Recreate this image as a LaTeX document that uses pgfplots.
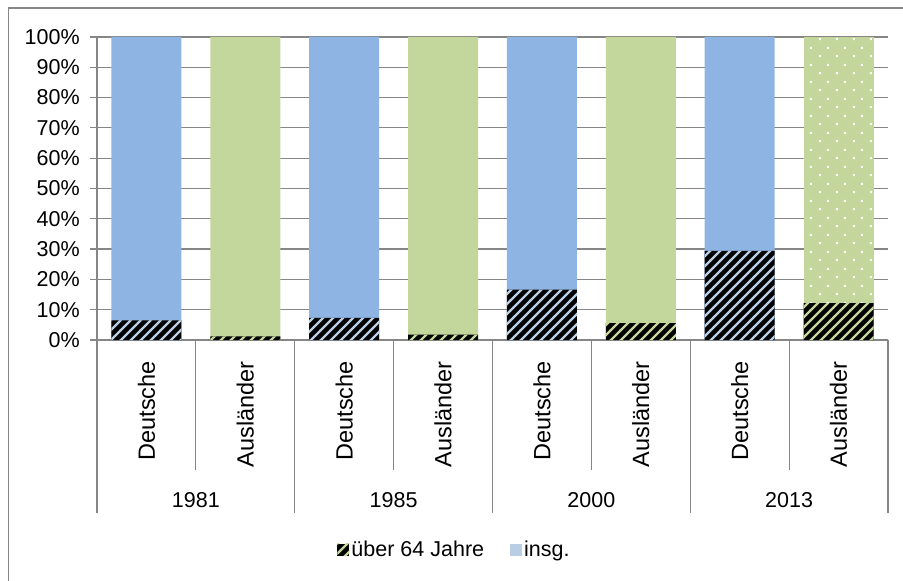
\documentclass[border=0pt]{standalone}
\usepackage{fontspec}
\setmainfont{Liberation Sans}
\usepackage{pgfplots}
\pgfplotsset{compat=1.18}
\usetikzlibrary{patterns}

\definecolor{barblue}    {RGB}{141,180,226}
\definecolor{bargreen}   {RGB}{195,214,155}
\definecolor{stripeblue} {RGB}{185,205,229}
\definecolor{stripegreen}{RGB}{195,214,155}
\definecolor{linegray}   {RGB}{134,134,134}

%% diagonal stripes, 10bp period
\pgfdeclarepatternformonly{stripes}{\pgfqpoint{-1bp}{-1bp}}{\pgfqpoint{11bp}{11bp}}{\pgfqpoint{10bp}{10bp}}{%
  \pgfsetlinewidth{2.2bp}%
  \pgfpathmoveto{\pgfqpoint{-0.5bp}{-0.5bp}}%
  \pgfpathlineto{\pgfqpoint{10.5bp}{10.5bp}}%
  \pgfusepath{stroke}}
%% small square dots, staggered
\pgfdeclarepatternformonly{sqdots}{\pgfqpoint{0bp}{0bp}}{\pgfqpoint{17bp}{16.6bp}}{\pgfqpoint{17bp}{16.6bp}}{%
  \pgfpathrectangle{\pgfqpoint{3bp}{3bp}}{\pgfqpoint{2bp}{2bp}}%
  \pgfpathrectangle{\pgfqpoint{11.5bp}{11.3bp}}{\pgfqpoint{2bp}{2bp}}%
  \pgfusepath{fill}}

\newcommand\lblfont{\fontsize{21.5bp}{25bp}\selectfont}
\newcommand\rotfont{\fontsize{23.5bp}{27bp}\selectfont}

\begin{document}
\lblfont
\begin{tikzpicture}
\useasboundingbox (0bp,0bp) rectangle (903bp,581bp);
%% outer chart frame (cut off at right and bottom)
\draw[linegray,line width=1.3bp] (8.5bp,-20bp) -- (8.5bp,573bp) -- (930bp,573bp);

\begin{axis}[
  at={(97bp,241bp)}, anchor=south west,
  scale only axis,
  width=791bp, height=303bp,
  xmin=-0.5, xmax=7.5,
  ymin=0, ymax=100,
  xtick=\empty,
  ytick={0,10,...,100},
  yticklabel={\pgfmathprintnumber{\tick}\%},
  /pgf/number format/assume math mode=true,
  yticklabel style={font=\lblfont, xshift=-3bp},
  ymajorgrids,
  grid style={linegray,line width=1.2bp},
  axis x line*=bottom, axis y line*=left,
  axis line style={linegray,line width=1.2bp,-},
  tick style={linegray,line width=1.2bp},
  tick align=outside,
  major tick length=7bp,
  ybar, bar width=0.707,
  clip=false,
  legend style={at={(0.452,-0.693)}, anchor=center, draw=none,
    legend columns=2, font=\lblfont,
    /tikz/every even column/.append style={column sep=24bp}},
  legend image code/.code={\fill[#1] (-3bp,-6bp) rectangle (9bp,6bp);},
]

%% insg. (full bars)
\addplot[fill=barblue, draw=none, bar shift=0pt, forget plot]
  coordinates {(0,100) (2,100) (4,100) (6,100)};
\addplot[fill=bargreen, draw=none, bar shift=0pt, forget plot]
  coordinates {(1,100) (3,100) (5,100)};
\addplot[fill=bargreen, draw=none, bar shift=0pt, forget plot,
  postaction={pattern=sqdots, pattern color=white}]
  coordinates {(7,100)};

%% über 64 Jahre
\addplot[fill=black, draw=none, bar shift=0pt, forget plot,
  postaction={pattern=stripes, pattern color=stripeblue}]
  coordinates {(0,6.5) (2,7.3) (4,16.6) (6,29.4)};
\addplot[fill=black, draw=none, bar shift=0pt,
  postaction={pattern=stripes, pattern color=stripegreen}]
  coordinates {(1,1.2) (3,1.8) (5,5.6) (7,12.2)};
\addlegendentry{über 64 Jahre}
\addlegendimage{fill=stripeblue, draw=none}
\addlegendentry{insg.}

%% category separators
\draw[linegray,line width=1.2bp] (axis cs:-0.5,0) -- ([yshift=-173bp]axis cs:-0.5,0);
\draw[linegray,line width=1.2bp] (axis cs:1.5,0) -- ([yshift=-173bp]axis cs:1.5,0);
\draw[linegray,line width=1.2bp] (axis cs:3.5,0) -- ([yshift=-173bp]axis cs:3.5,0);
\draw[linegray,line width=1.2bp] (axis cs:5.5,0) -- ([yshift=-173bp]axis cs:5.5,0);
\draw[linegray,line width=1.2bp] (axis cs:7.5,0) -- ([yshift=-173bp]axis cs:7.5,0);
\draw[linegray,line width=1.2bp] (axis cs:0.5,0) -- ([yshift=-130bp]axis cs:0.5,0);
\draw[linegray,line width=1.2bp] (axis cs:2.5,0) -- ([yshift=-130bp]axis cs:2.5,0);
\draw[linegray,line width=1.2bp] (axis cs:4.5,0) -- ([yshift=-130bp]axis cs:4.5,0);
\draw[linegray,line width=1.2bp] (axis cs:6.5,0) -- ([yshift=-130bp]axis cs:6.5,0);

%% category labels
\node[rotate=90,anchor=east,inner sep=0pt,font=\rotfont] at ([yshift=-21bp]axis cs:0,0) {Deutsche};
\node[rotate=90,anchor=east,inner sep=0pt,font=\rotfont] at ([yshift=-21bp]axis cs:1,0) {Ausländer};
\node[rotate=90,anchor=east,inner sep=0pt,font=\rotfont] at ([yshift=-21bp]axis cs:2,0) {Deutsche};
\node[rotate=90,anchor=east,inner sep=0pt,font=\rotfont] at ([yshift=-21bp]axis cs:3,0) {Ausländer};
\node[rotate=90,anchor=east,inner sep=0pt,font=\rotfont] at ([yshift=-21bp]axis cs:4,0) {Deutsche};
\node[rotate=90,anchor=east,inner sep=0pt,font=\rotfont] at ([yshift=-21bp]axis cs:5,0) {Ausländer};
\node[rotate=90,anchor=east,inner sep=0pt,font=\rotfont] at ([yshift=-21bp]axis cs:6,0) {Deutsche};
\node[rotate=90,anchor=east,inner sep=0pt,font=\rotfont] at ([yshift=-21bp]axis cs:7,0) {Ausländer};

\node at ([yshift=-160bp]axis cs:0.5,0) {1981};
\node at ([yshift=-160bp]axis cs:2.5,0) {1985};
\node at ([yshift=-160bp]axis cs:4.5,0) {2000};
\node at ([yshift=-160bp]axis cs:6.5,0) {2013};
\end{axis}
\end{tikzpicture}
\end{document}
